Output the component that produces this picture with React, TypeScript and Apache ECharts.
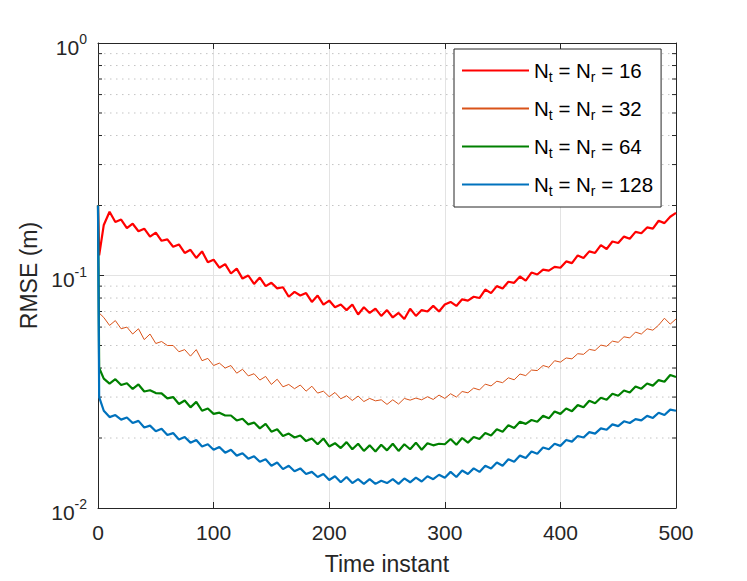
import React, { useEffect, useRef } from "react";
import * as echarts from "echarts";

// time instants: 0, 1, then every 5 up to 500
const TIMES: number[] = [0, 1, ...Array.from({ length: 100 }, (_, i) => (i + 1) * 5)];
const START_VALUE = 0.2;

// values at t = 1, 5, 10, ..., 500
const RMSE_16 = [0.122,
  0.165, 0.188, 0.170, 0.174, 0.160, 0.167, 0.155, 0.159, 0.147, 0.153,
  0.141, 0.143, 0.133, 0.136, 0.125, 0.129, 0.119, 0.127, 0.114, 0.117,
  0.108, 0.112, 0.102, 0.107, 0.097, 0.100, 0.092, 0.098, 0.090, 0.093,
  0.088, 0.089, 0.081, 0.085, 0.082, 0.084, 0.077, 0.082, 0.075, 0.078,
  0.073, 0.075, 0.071, 0.075, 0.068, 0.073, 0.069, 0.072, 0.067, 0.071,
  0.066, 0.069, 0.065, 0.072, 0.067, 0.071, 0.070, 0.074, 0.070, 0.075,
  0.077, 0.074, 0.079, 0.078, 0.081, 0.080, 0.087, 0.084, 0.090, 0.088,
  0.094, 0.093, 0.099, 0.095, 0.103, 0.101, 0.106, 0.105, 0.109, 0.108,
  0.115, 0.113, 0.122, 0.119, 0.127, 0.125, 0.135, 0.130, 0.140, 0.138,
  0.147, 0.144, 0.154, 0.152, 0.161, 0.159, 0.172, 0.168, 0.179, 0.186];

const RMSE_32 = [0.069,
  0.066, 0.061, 0.064, 0.059, 0.060, 0.056, 0.059, 0.053, 0.056, 0.051,
  0.052, 0.050, 0.050, 0.047, 0.048, 0.045, 0.048, 0.043, 0.044, 0.041,
  0.042, 0.040, 0.041, 0.038, 0.0395, 0.037, 0.0378, 0.0355, 0.0368, 0.0340,
  0.0358, 0.0332, 0.0340, 0.0326, 0.0338, 0.0318, 0.0334, 0.0312, 0.0318, 0.0301,
  0.0314, 0.0295, 0.0304, 0.0290, 0.0303, 0.0287, 0.0296, 0.0289, 0.0292, 0.0279,
  0.0292, 0.0280, 0.0296, 0.0291, 0.0297, 0.0292, 0.0301, 0.0293, 0.0306, 0.0296,
  0.0310, 0.0300, 0.0317, 0.0313, 0.0328, 0.0322, 0.0341, 0.0335, 0.0351, 0.0346,
  0.0363, 0.0356, 0.0377, 0.0371, 0.0392, 0.0390, 0.0410, 0.0403, 0.0430, 0.0424,
  0.0442, 0.0438, 0.0461, 0.0458, 0.0481, 0.0476, 0.0502, 0.0496, 0.0522, 0.0516,
  0.0545, 0.0539, 0.0571, 0.0560, 0.0590, 0.0582, 0.0612, 0.0655, 0.0618, 0.0650];

const RMSE_64 = [0.040,
  0.0360, 0.0343, 0.0358, 0.0338, 0.0344, 0.0325, 0.0340, 0.0317, 0.0321, 0.0312,
  0.0311, 0.0296, 0.0300, 0.0280, 0.0290, 0.0271, 0.0286, 0.0262, 0.0268, 0.0254,
  0.0257, 0.0250, 0.0250, 0.0238, 0.0242, 0.0229, 0.0233, 0.0220, 0.0230, 0.0213,
  0.0218, 0.0204, 0.0209, 0.0201, 0.0205, 0.0194, 0.0199, 0.0188, 0.0199, 0.0184,
  0.0190, 0.0181, 0.0192, 0.0179, 0.0189, 0.0176, 0.0186, 0.0175, 0.0187, 0.0177,
  0.0189, 0.0176, 0.0188, 0.0179, 0.0191, 0.0178, 0.0190, 0.0186, 0.0189, 0.0188,
  0.0198, 0.0187, 0.0200, 0.0191, 0.0202, 0.0198, 0.0210, 0.0205, 0.0218, 0.0213,
  0.0227, 0.0221, 0.0235, 0.0230, 0.0239, 0.0235, 0.0249, 0.0243, 0.0260, 0.0254,
  0.0268, 0.0261, 0.0277, 0.0271, 0.0289, 0.0282, 0.0298, 0.0292, 0.0310, 0.0304,
  0.0320, 0.0314, 0.0333, 0.0326, 0.0343, 0.0336, 0.0355, 0.0349, 0.0373, 0.0366];

const RMSE_128 = [0.030,
  0.0262, 0.0246, 0.0251, 0.0240, 0.0245, 0.0232, 0.0237, 0.0222, 0.0226, 0.0214,
  0.0219, 0.0206, 0.0210, 0.0197, 0.0202, 0.0191, 0.0196, 0.0184, 0.0188, 0.0178,
  0.0183, 0.0173, 0.0178, 0.0168, 0.0172, 0.0163, 0.0167, 0.0158, 0.0162, 0.0152,
  0.0157, 0.0147, 0.0152, 0.0144, 0.0148, 0.0140, 0.0143, 0.0136, 0.0140, 0.0132,
  0.0137, 0.0129, 0.0136, 0.0128, 0.0133, 0.0127, 0.0133, 0.0127, 0.0131, 0.0128,
  0.0133, 0.0127, 0.0134, 0.0129, 0.0135, 0.0130, 0.0137, 0.0133, 0.0139, 0.0135,
  0.0143, 0.0136, 0.0145, 0.0140, 0.0148, 0.0143, 0.0152, 0.0148, 0.0157, 0.0152,
  0.0162, 0.0158, 0.0168, 0.0164, 0.0175, 0.0171, 0.0182, 0.0179, 0.0189, 0.0185,
  0.0196, 0.0193, 0.0204, 0.0201, 0.0212, 0.0209, 0.0220, 0.0217, 0.0229, 0.0225,
  0.0236, 0.0232, 0.0241, 0.0238, 0.0249, 0.0244, 0.0257, 0.0251, 0.0265, 0.0262];

const ANTENNAS = ["16", "32", "64", "128"];
const COLORS = ["#FF0000", "#D95319", "#008000", "#0072BD"];
const WIDTHS = [2.2, 1, 2.2, 2.2];
const SERIES_VALUES = [RMSE_16, RMSE_32, RMSE_64, RMSE_128];
const MINOR_TICKS = [0.02, 0.03, 0.04, 0.05, 0.06, 0.07, 0.08, 0.09, 0.2, 0.3, 0.4, 0.5, 0.6, 0.7, 0.8, 0.9];

const FONT = "'Liberation Sans', Arial, Helvetica, sans-serif";
const AX = "#262626";

export default function App() {
  const ref = useRef<HTMLDivElement>(null);
  useEffect(() => {
    if (!ref.current) return;
    const chart = echarts.init(ref.current, undefined, { renderer: "svg" });
    const names = ANTENNAS.map((a) => `N_t = N_r = ${a}`);
    const lineSeries = SERIES_VALUES.map((vals, k) => ({
      type: "line",
      name: names[k],
      xAxisIndex: 0,
      yAxisIndex: 0,
      symbol: "none",
      data: TIMES.map((t, i) => [t, i === 0 ? START_VALUE : vals[i - 1]]),
      lineStyle: { color: COLORS[k], width: WIDTHS[k] },
      itemStyle: { color: COLORS[k] },
      z: 3,
    }));
    const minorSeries = {
      type: "custom",
      name: "minor",
      xAxisIndex: 0,
      yAxisIndex: 0,
      silent: true,
      z: 1,
      data: MINOR_TICKS.map((v) => [0, v]),
      encode: { x: 0, y: 1 },
      renderItem: (params: any, api: any) => {
        const y = api.coord([0, api.value(1)])[1];
        const cs = params.coordSys;
        return {
          type: "group",
          children: [
            { type: "line", shape: { x1: cs.x, y1: y, x2: cs.x + cs.width, y2: y }, style: { stroke: "#c4c4c4", lineWidth: 1, lineDash: [1.5, 4.5] } },
            { type: "line", shape: { x1: cs.x, y1: y, x2: cs.x + 4, y2: y }, style: { stroke: AX, lineWidth: 1 } },
            { type: "line", shape: { x1: cs.x + cs.width - 4, y1: y, x2: cs.x + cs.width, y2: y }, style: { stroke: AX, lineWidth: 1 } },
          ],
        };
      },
    };
    const yLabelFmt = (v: number) => `{b|10}{e|${Math.round(Math.log10(v))}}`;
    chart.setOption({
      animation: false,
      backgroundColor: "#fff",
      grid: { left: 98, top: 43, right: 71, bottom: 73, containLabel: false },
      xAxis: [
        {
          type: "value", min: 0, max: 500, interval: 100, position: "bottom",
          name: "Time instant", nameLocation: "middle", nameGap: 44,
          nameTextStyle: { fontFamily: FONT, fontSize: 23, color: AX },
          axisLine: { show: true, onZero: false, lineStyle: { color: AX, width: 1 } },
          axisTick: { show: true, inside: true, length: 6, lineStyle: { color: AX } },
          axisLabel: { margin: 14, fontFamily: FONT, fontSize: 21, color: AX },
          splitLine: { show: true, lineStyle: { color: "#e3e3e3", width: 1 } },
        },
        {
          type: "value", min: 0, max: 500, interval: 100, position: "top",
          axisLine: { show: true, onZero: false, lineStyle: { color: AX, width: 1 } },
          axisTick: { show: true, inside: true, length: 6, lineStyle: { color: AX } },
          axisLabel: { show: false },
          splitLine: { show: false },
        },
      ],
      yAxis: [
        {
          type: "log", logBase: 10, min: 0.01, max: 1, position: "left",
          name: "RMSE (m)", nameLocation: "middle", nameGap: 56,
          nameTextStyle: { fontFamily: FONT, fontSize: 23, color: AX },
          axisLine: { show: true, onZero: false, lineStyle: { color: AX, width: 1 } },
          axisTick: { show: true, inside: true, length: 6, lineStyle: { color: AX } },
          axisLabel: {
            margin: 11, formatter: yLabelFmt,
            rich: {
              b: { fontFamily: FONT, fontSize: 21, color: AX, padding: [8, 0, 0, 0] },
              e: { fontFamily: FONT, fontSize: 14, color: AX, padding: [0, 0, 8, 0] },
            },
          },
          splitLine: { show: true, lineStyle: { color: "#e3e3e3", width: 1 } },
        },
        {
          type: "log", logBase: 10, min: 0.01, max: 1, position: "right",
          axisLine: { show: true, onZero: false, lineStyle: { color: AX, width: 1 } },
          axisTick: { show: true, inside: true, length: 6, lineStyle: { color: AX } },
          axisLabel: { show: false },
          splitLine: { show: false },
        },
      ],
      legend: {
        data: names,
        orient: "vertical",
        left: 454,
        top: 49,
        itemWidth: 67,
        itemHeight: 14,
        itemGap: 11,
        padding: [8, 8, 9, 7],
        borderColor: AX,
        borderWidth: 1,
        borderRadius: 0,
        backgroundColor: "#fff",
        itemStyle: { opacity: 0 },
        formatter: (name: string) => {
          const n = name.split("= ").pop();
          return `{n|N}{s|t}{n| = N}{s|r}{n| = ${n}}`;
        },
        textStyle: {
          rich: {
            n: { fontFamily: FONT, fontSize: 20.5, color: "#000", lineHeight: 26 },
            s: { fontFamily: FONT, fontSize: 14, color: "#000", lineHeight: 26, padding: [13, 0, 0, 0] },
          },
        },
      },
      series: [minorSeries, ...lineSeries],
    });
    return () => chart.dispose();
  }, []);
  return (
    <div
      ref={ref}
      style={{ position: "fixed", left: 0, top: 0, width: 747, height: 581, background: "#fff" }}
    />
  );
}
